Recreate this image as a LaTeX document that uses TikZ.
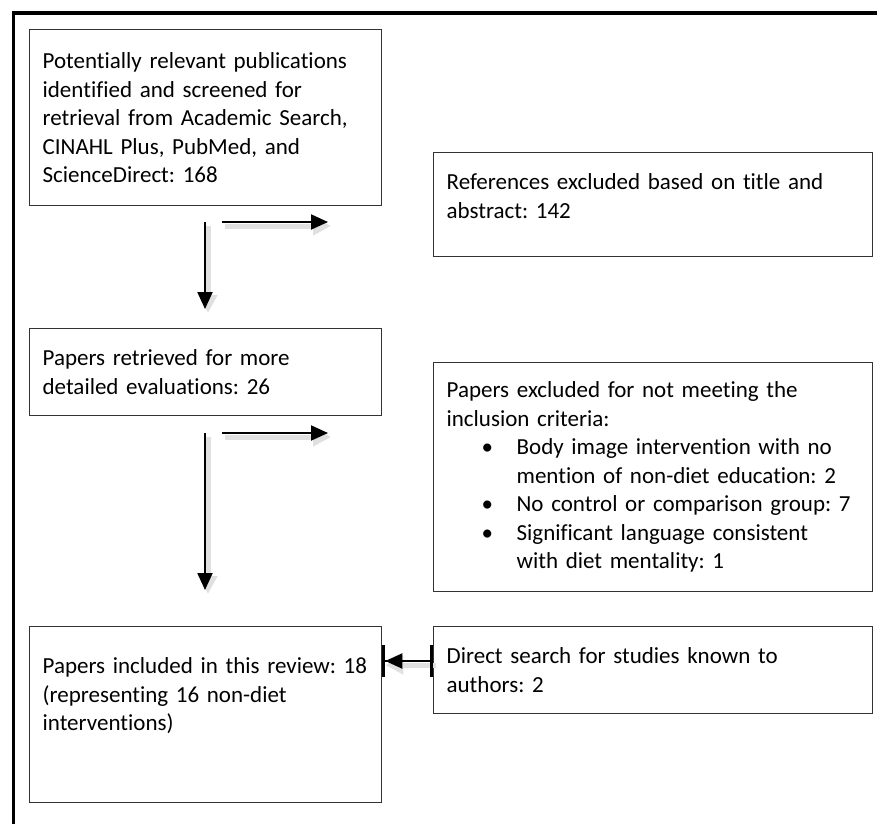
\documentclass[tikz,border=0pt]{standalone}
\usepackage{fontspec}
\setmainfont{Carlito}[Ligatures=NoCommon]
\usetikzlibrary{arrows.meta}
\frenchspacing

\newcommand{\itembul}{\makebox[70pt][l]{\hspace*{35pt}\textbullet}}
\newcommand{\itemgap}{\hspace*{70pt}}

\begin{document}
\begin{tikzpicture}[x=1pt,y=-1pt,
    box/.style={shape=rectangle,draw=black!80,line width=1.3pt,anchor=north west,
        inner xsep=13pt,inner ysep=0pt,align=left,
        font=\fontsize{23pt}{28.5pt}\selectfont},
    wide/.style={text width=413pt},
    narrow/.style={text width=326pt},
    flow/.style={line width=2pt,-{Triangle[length=17pt,width=15pt]}},
    flowshadow/.style={draw=black!12,line width=5pt,-{Triangle[length=18pt,width=18pt]},
        transform canvas={shift={(3pt,-4pt)}}}]
    \useasboundingbox (0,0) rectangle (877,824);
    \draw[line width=3.5pt] (13.5,824) -- (13.5,13) -- (877,13);

    \node[box,narrow,minimum height=176pt] (found) at (29,29) {Potentially relevant publications\\identified and screened for\\retrieval from Academic Search,\\CINAHL Plus, PubMed, and\\ScienceDirect: 168};
    \node[box,wide,text height=37pt,text depth=67pt] (refexcl) at (433,152) {References excluded based on title and\\abstract: 142};
    \node[box,narrow,minimum height=87pt] (retrieved) at (29,328) {Papers retrieved for more\\detailed evaluations: 26};
    \node[box,wide,minimum height=229pt] (papexcl) at (433,362) {Papers excluded for not meeting the\\inclusion criteria:\\\itembul Body image intervention with no\\\itemgap mention of non-diet education: 2\\\itembul No control or comparison group: 7\\\itembul Significant language consistent\\\itemgap with diet mentality: 1};
    \node[box,narrow,text height=47pt,text depth=129pt] (included) at (29,626) {Papers included in this review: 18\\(representing 16 non-diet\\interventions)};
    \node[box,wide,minimum height=87pt] (direct) at (433,626) {Direct search for studies known to\\authors: 2};

    \coordinate (down1) at (205,222);
    \coordinate (down1end) at (205,309);
    \coordinate (side1) at (222,222);
    \coordinate (side1end) at (328,222);
    \coordinate (down2) at (205,433);
    \coordinate (down2end) at (205,590);
    \coordinate (side2) at (222,433);
    \coordinate (side2end) at (328,433);
    \coordinate (back) at (direct.west |- 0,661);
    \coordinate (backend) at (included.east |- 0,661);

    \path (down1) edge [flowshadow] (down1end);
    \path (side1) edge [flowshadow] (side1end);
    \path (down2) edge [flowshadow] (down2end);
    \path (side2) edge [flowshadow] (side2end);
    \path (back) edge [flowshadow] (backend);

    \path (down1) edge [flow] (down1end);
    \path (side1) edge [flow] (side1end);
    \path (down2) edge [flow] (down2end);
    \path (side2) edge [flow] (side2end);
    \path (back) edge [flow,{Bar[width=32pt,line width=3pt]}-{Triangle[length=17pt,width=15pt] Bar[width=32pt,line width=3pt]}] (backend);
\end{tikzpicture}
\end{document}
